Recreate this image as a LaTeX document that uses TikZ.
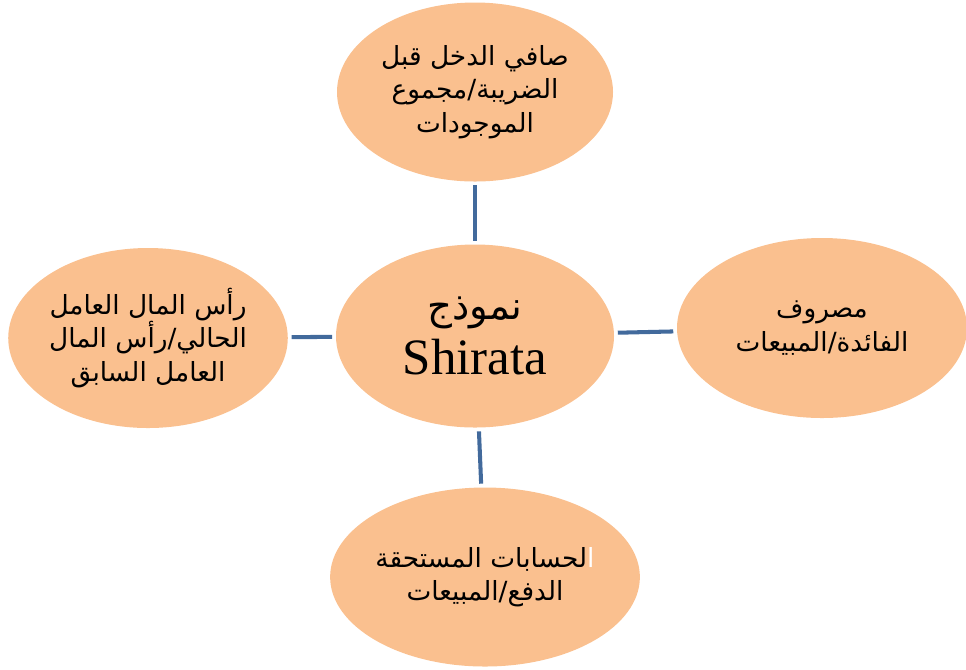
\documentclass[tikz,border=0pt]{standalone}
\usepackage{fontspec}
\usepackage{tikz}
\usetikzlibrary{shapes.geometric, positioning}
\TeXXeTstate=1
\newfontfamily\arabicfont[Script=Arabic]{DejaVu Sans}
\setmainfont{Liberation Serif}
\definecolor{peach}{RGB}{250,192,143}
\definecolor{steel}{RGB}{66,106,156}
\newcommand{\ar}[1]{{\arabicfont\beginR #1\endR}}

\begin{document}
\begin{tikzpicture}[
    ratio/.style={ellipse, fill=peach, inner sep=0pt, align=center,
                  minimum height=3.6cm, font=\fontsize{15}{19}\selectfont},
    link/.style={draw=steel, line width=2.3pt, shorten <=2pt, shorten >=2pt}
]
    \useasboundingbox (0,0) rectangle (19.32,-13.38);
    % Centre node: the model
    \node[ratio, minimum width=5.56cm, minimum height=3.66cm] (model) at (9.5,-6.72)
        {\ar{\fontsize{22}{26}\selectfont نموذج}\\[5pt]{\fontsize{29}{30}\selectfont Shirata}};
    % The four ratios round it
    \node[ratio, minimum width=5.52cm, minimum height=3.58cm] (profit) at (9.5,-1.84)
        {\ar{صافي الدخل قبل}\\\ar{الضريبة/مجموع}\\\ar{الموجودات}};
    \node[ratio, minimum width=5.58cm] (capital) at (2.96,-6.76)
        {\ar{رأس المال العامل}\\\ar{الحالي/رأس المال}\\\ar{العامل السابق}};
    \node[ratio, minimum width=5.8cm] (interest) at (16.44,-6.56)
        {\ar{مصروف}\\\ar{الفائدة/المبيعات}};
    \node[ratio, minimum width=6.08cm, minimum height=3.58cm] (payables) at (9.7,-11.54)
        {\ar{لحسابات المستحقة}{\arabicfont\textcolor{white}{ا}}\\\ar{الدفع/المبيعات}};
    % Connectors
    \draw[link] (model) -- (profit);
    \draw[link] (model) -- (capital);
    \draw[link] (model) -- (interest);
    \draw[link] (model) -- (payables);
\end{tikzpicture}
\end{document}
